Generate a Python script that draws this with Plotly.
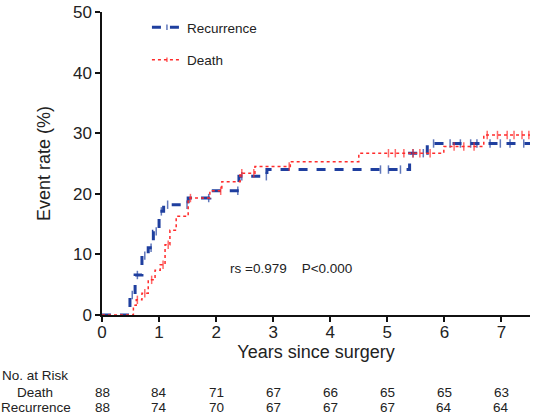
import plotly.graph_objects as go

# ---------------- data ----------------
# Recurrence: event times (years) and cumulative event rate (%)
rec_times = [0, 0.49, 0.58, 0.70, 0.81, 0.90, 1.00, 1.08, 1.51, 1.89, 2.40, 2.89, 5.39, 5.70, 7.5]
rec_rates = [0, 3.3, 6.6, 9.8, 11.1, 13.8, 17.1, 18.2, 19.3, 20.5, 22.9, 24.0, 26.7, 28.3, 28.3]
rec_censor = [0.53, 0.62, 0.75, 0.86, 0.95, 1.04, 1.15, 1.49, 1.87, 2.38, 2.45, 2.88, 4.88, 5.02, 5.23,
              5.45, 5.63, 5.81, 6.10, 6.28, 6.46, 6.57, 6.80, 6.98, 7.15, 7.39]

# Death: event times (years) and cumulative event rate (%)
dth_times = [0, 0.50, 0.55, 0.60, 0.70, 0.81, 0.93, 1.02, 1.105, 1.19, 1.30, 1.51, 1.89, 2.10, 2.42,
             2.68, 3.30, 4.50, 5.99, 6.69, 7.5]
dth_rates = [0, 0, 1.6, 2.5, 3.6, 5.8, 7.4, 8.3, 11.6, 14.0, 16.3, 19.3, 20.5, 22.0, 23.4,
             24.5, 25.3, 26.7, 27.8, 29.7, 29.7]
dth_censor = [0.62, 0.75, 0.87, 1.07, 1.16, 1.55, 2.08, 2.45, 2.66, 3.28, 5.02, 5.14, 5.29, 5.45,
              5.57, 5.75, 6.17, 6.34, 6.52, 6.75, 6.93, 7.10, 7.22, 7.36, 7.48]

# Numbers at risk
risk_years = [0, 1, 2, 3, 4, 5, 6, 7]
risk_death = [88, 84, 71, 67, 66, 65, 65, 63]
risk_recurrence = [88, 74, 70, 67, 67, 67, 64, 64]

x_ticks = [0, 1, 2, 3, 4, 5, 6, 7]
y_ticks = [0, 10, 20, 30, 40, 50]

BLUE = "#1f3f9f"
RED = "#ff2b2b"
FONT = "Liberation Sans, Arial, Helvetica, sans-serif"
TXT = "#222222"


def step_with_censor(times, rates, censor):
    """Merge event steps and censor marks; censor points take the current step value."""
    pts = [(t, r, 0) for t, r in zip(times, rates)]
    for c in censor:
        idx = max(i for i, t in enumerate(times) if t <= c)
        pts.append((c, rates[idx], 1))
    pts.sort(key=lambda p: (p[0], p[2]))
    xs = [p[0] for p in pts]
    ys = [p[1] for p in pts]
    sizes = [6 if p[2] else 0 for p in pts]
    return xs, ys, sizes


fig = go.Figure()

for name, times, rates, cens, color, dash, width in [
    ("Recurrence", rec_times, rec_rates, rec_censor, BLUE, "dash", 3),
    ("Death", dth_times, dth_rates, dth_censor, RED, "dot", 1.5),
]:
    xs, ys, sizes = step_with_censor(times, rates, cens)
    fig.add_trace(go.Scatter(
        x=xs, y=ys, name=name, mode="lines+markers",
        line=dict(color=color, width=width, dash=dash, shape="hv"),
        marker=dict(symbol="line-ns", size=sizes, color=color,
                    line=dict(color=color, width=1.5)),
        legendgroup=name,
    ))

PH = 303.0
PW = 428.0
def py(pix):
    return (315 - pix) / PH

def px(pix):
    return (pix - 102) / PW

# rs annotation
fig.add_annotation(x=px(290.5), y=py(268), xref="paper", yref="paper",
                   xanchor="center", yanchor="middle",
                   text="rs =0.979&nbsp;&nbsp;&nbsp;&nbsp;P<0.000", showarrow=False,
                   font=dict(size=13.5, color=TXT, family=FONT))

# Risk table
RS = 13.5
for label, lx, ly in [("No. at Risk", 1, 376), ("Death", 16, 392), ("Recurrence", 0, 407)]:
    fig.add_annotation(x=px(lx), y=py(ly), xref="paper", yref="paper",
                       xanchor="left", yanchor="middle", borderpad=0,
                       text=label, showarrow=False,
                       font=dict(size=RS, color=TXT, family=FONT))
for yr, d, r in zip(risk_years, risk_death, risk_recurrence):
    fig.add_annotation(x=yr, y=py(392), xref="x", yref="paper", xanchor="center",
                       yanchor="middle", borderpad=0, text=str(d), showarrow=False,
                       font=dict(size=RS, color=TXT, family=FONT))
    fig.add_annotation(x=yr, y=py(407), xref="x", yref="paper", xanchor="center",
                       yanchor="middle", borderpad=0, text=str(r), showarrow=False,
                       font=dict(size=RS, color=TXT, family=FONT))

fig.update_layout(
    width=535, height=416,
    margin=dict(l=102, r=5, t=12, b=101, autoexpand=False),
    paper_bgcolor="white", plot_bgcolor="white",
    font=dict(family=FONT, color=TXT),
    showlegend=True,
    legend=dict(x=0.105, y=1.0, xanchor="left", yanchor="top",
                bgcolor="rgba(0,0,0,0)", font=dict(size=13.5, color=TXT),
                tracegroupgap=12),
    xaxis=dict(range=[0, 7.5], tickvals=x_ticks, ticks="outside", ticklen=5, tickwidth=1.5,
               showline=True, linecolor="#111111", linewidth=1.5, tickcolor="#111111",
               showgrid=False, zeroline=False, tickfont=dict(size=17), automargin=False,
               ticklabelstandoff=-4,
               title=dict(text="Years since surgery", font=dict(size=18), standoff=3)),
    yaxis=dict(range=[0, 50], tickvals=y_ticks, ticks="outside", ticklen=5, tickwidth=1.5,
               showline=True, linecolor="#111111", linewidth=1.5, tickcolor="#111111",
               showgrid=False, zeroline=False, tickfont=dict(size=17), automargin=False,
               title=dict(text="Event rate (%)", font=dict(size=18), standoff=18)),
)

fig.write_html("out.html",
               config={"displayModeBar": False},
               post_script="document.body.style.margin='0';document.body.style.padding='0';")
